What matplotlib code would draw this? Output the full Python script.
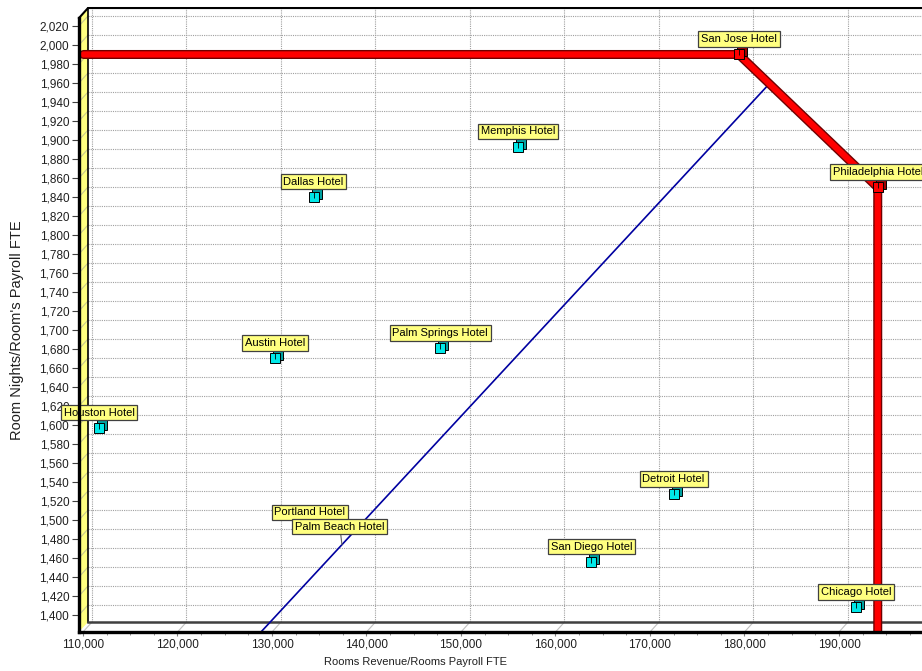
import matplotlib.pyplot as plt
from matplotlib.patches import Polygon
from matplotlib.transforms import offset_copy
import matplotlib.patheffects as pe

plt.rcParams['font.family'] = ['Liberation Sans', 'DejaVu Sans']

# hotels plotted as cyan cubes
hotels = ['Houston Hotel', 'Austin Hotel', 'Dallas Hotel', 'Memphis Hotel',
          'Palm Springs Hotel', 'Detroit Hotel', 'San Diego Hotel', 'Chicago Hotel']
revenue = [111700, 130300, 134400, 156000, 147800, 172500, 163800, 191800]
nights = [1597, 1670, 1840, 1893, 1681, 1527, 1456, 1408]

# efficient hotels (red frontier)
frontier_hotels = ['San Jose Hotel', 'Philadelphia Hotel']
frontier_revenue = [179400, 194100]
frontier_nights = [1990, 1850]

# hotels whose markers are not drawn, only labels
hidden_hotels = ['Portland Hotel', 'Palm Beach Hotel']
hidden_revenue = [134000, 137400]
hidden_nights = [1492, 1474]

xticks = list(range(110000, 190001, 10000))
yticks = list(range(1400, 2021, 20))
xlim = (109577, 198783)
ylim = (1382.1, 2028.4)
# depth of the 3d box in data units (9 px right, 10 px up)
DX = 952
DY = 10.5

fig = plt.figure(figsize=(9.22, 6.71), dpi=100)
ax = fig.add_axes([79 / 922, 39 / 671, 843 / 922, 614 / 671])
ax.set_xlim(*xlim)
ax.set_ylim(*ylim)
ax.patch.set_visible(False)

# back wall grid
for x in xticks:
    ax.plot([x + DX, x + DX], [ylim[0] + DY, ylim[1] + DY], color='#a0a0a0',
            ls=(0, (1, 1)), lw=0.8, clip_on=False, zorder=1)
    ax.plot([x, x + DX], [ylim[0], ylim[0] + DY], color='#c0c0c0', lw=0.8,
            clip_on=False, zorder=1)
for y in yticks:
    ax.plot([xlim[0] + DX, xlim[1] + DX], [y + DY, y + DY], color='#a0a0a0',
            ls=(0, (1, 1)), lw=0.8, clip_on=False, zorder=1)

# yellow left wall
wall = Polygon([(xlim[0], ylim[0]), (xlim[0], ylim[1]), (xlim[0] + DX, ylim[1] + DY),
                (xlim[0] + DX, ylim[0] + DY)], closed=True, fc='#ffff80', ec='none',
               clip_on=False, zorder=2)
ax.add_patch(wall)
for y in yticks:
    ax.plot([xlim[0], xlim[0] + DX], [y, y + DY], color='#c8c890', lw=0.8,
            clip_on=False, zorder=2)
ax.plot([xlim[0] + DX, xlim[0] + DX], [ylim[0] + DY, ylim[1] + DY], color='black',
        lw=1.2, clip_on=False, zorder=3)
ax.plot([xlim[0], xlim[0] + DX, xlim[1] + DX], [ylim[1], ylim[1] + DY, ylim[1] + DY],
        color='black', lw=1.5, clip_on=False, zorder=3)
# floor back edge
ax.plot([xlim[0] + DX, xlim[1] + DX], [ylim[0] + DY, ylim[0] + DY], color='#404040',
        lw=1.8, clip_on=False, zorder=3)

# ray through origin and Palm Beach to the frontier
k = hidden_nights[1] / hidden_revenue[1]
x1, x2 = frontier_revenue
y1, y2 = frontier_nights
t = (y1 - k * x1) / (k * (x2 - x1) - (y2 - y1))
x_end = x1 + t * (x2 - x1)
x_start = ylim[0] / k
ax.plot([x_start, x_end], [k * x_start, k * x_end], color='#0000a0', lw=1.2, zorder=4)

# frontier
fx = [xlim[0] + DX / 2] + frontier_revenue + [frontier_revenue[-1]]
fy = [frontier_nights[0]] + frontier_nights + [ylim[0]]
ax.plot(fx, fy, color='#ff0000', lw=4.5, solid_capstyle='round', zorder=5,
        path_effects=[pe.Stroke(linewidth=6.5, foreground='#700000'), pe.Normal()])


def cubes(xs, ys, face, side):
    back = offset_copy(ax.transData, fig=fig, x=3, y=3, units='dots')
    ax.plot(xs, ys, 's', ms=7.5, mfc=side, mec='black', mew=0.7, transform=back,
            zorder=6, clip_on=False)
    ax.plot(xs, ys, 's', ms=7.5, mfc=face, mec='black', mew=0.7, zorder=7, clip_on=False)
    top = offset_copy(ax.transData, fig=fig, x=0, y=2, units='dots')
    ax.plot(xs, ys, '|', ms=5, mec='black', mew=0.6, transform=top, zorder=8,
            clip_on=False)


cubes(revenue, nights, '#00e8e8', '#00a0a0')
cubes(frontier_revenue, frontier_nights, '#ff0000', '#a00000')

box = dict(boxstyle='square,pad=0.25', fc='#ffff80', ec='#404040', lw=0.9)
for name, x, y in zip(hotels + frontier_hotels, revenue + frontier_revenue,
                      nights + frontier_nights):
    ax.annotate(name, (x, y), xytext=(0, 11), textcoords='offset points',
                ha='center', va='center', fontsize=8, bbox=box, zorder=9,
                annotation_clip=False)
ax.annotate(hidden_hotels[0], (hidden_revenue[0], hidden_nights[0]), xytext=(0, 11),
            textcoords='offset points', ha='center', va='center', fontsize=8,
            bbox=box, zorder=9)
ax.annotate(hidden_hotels[1], (hidden_revenue[1], hidden_nights[1]), xytext=(-1.5, 13),
            textcoords='offset points', ha='center', va='center', fontsize=8,
            bbox=box, zorder=9,
            arrowprops=dict(arrowstyle='-', color='#606060', lw=0.8, shrinkA=0, shrinkB=0))

# front axes
for s in ['top', 'right']:
    ax.spines[s].set_visible(False)
for s in ['left', 'bottom']:
    ax.spines[s].set_linewidth(2.4)
    ax.spines[s].set_zorder(10)
ax.set_xticks(xticks)
ax.set_xticklabels([f'{v:,}' for v in xticks])
ax.set_xticks(list(range(110000, 197501, 2500)), minor=True)
ax.set_yticks(yticks)
ax.set_yticklabels([f'{v:,}' for v in yticks])
ax.tick_params(axis='x', length=3, color='#808080', labelsize=8.5, pad=1.5,
               labelcolor='#202020')
ax.tick_params(axis='x', which='minor', length=2, color='#808080')
ax.tick_params(axis='y', length=5, color='#404040', labelsize=8.5, pad=2,
               labelcolor='#202020')

fig.text(17 / 922, 1 - 330 / 671, "Room Nights/Room's Payroll FTE", rotation=90,
         ha='center', va='center', fontsize=10.5, color='#202020')
fig.text(415 / 922, 1 - 662 / 671, 'Rooms Revenue/Rooms Payroll FTE', ha='center',
         va='center', fontsize=8, color='#202020')

fig.savefig('out.png', dpi=100)
